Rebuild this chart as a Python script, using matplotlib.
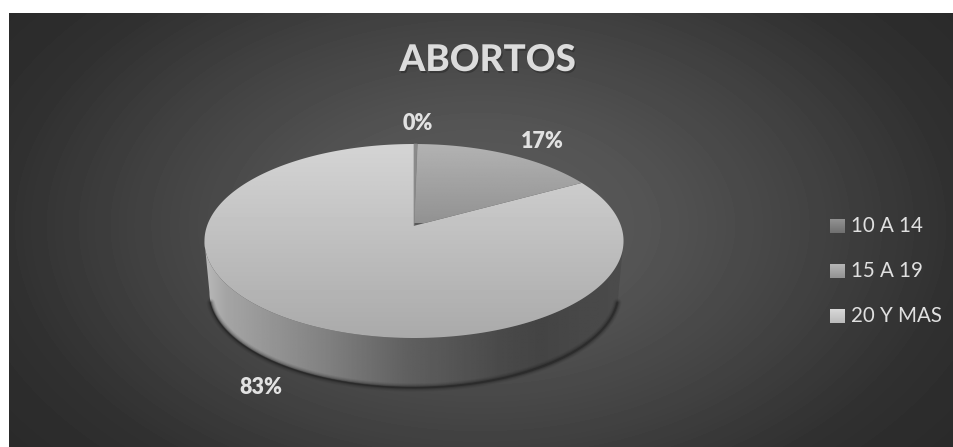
import numpy as np
import matplotlib
matplotlib.use('Agg')
import matplotlib.pyplot as plt
import matplotlib.patheffects as pe
from matplotlib.patches import Polygon

plt.rcParams['font.family'] = ['Lato', 'DejaVu Sans']

categories = ['10 A 14', '15 A 19', '20 Y MAS']
values = [0.3, 17.0, 82.7]
title = 'ABORTOS'

CX, CY = 414, 241
TILT = 0.1856
# widest point of the projected disc, in degrees clockwise from 12 o'clock
RIM_START = 100.7
RIM_END = 259.3


def disc_points(theta, rx=205.9, ry=97, shift=18, cy=CY):
  """Projects angles (clockwise from 12 o'clock) on the tilted disc to pixels."""
  u, v = np.sin(theta), np.cos(theta)
  d = 1 + TILT * v
  return CX + rx * u / d, cy - (ry * v + shift) / d


def fill_gradient(ax, points, extent, grey):
  """Fills a polygon with a grey ramp, clipped to the polygon."""
  patch = Polygon(points, closed=True, facecolor='none', edgecolor='none')
  ax.add_patch(patch)
  im = ax.imshow(grey, extent=extent, cmap='gray', vmin=0, vmax=255, aspect='auto', interpolation='bilinear')
  im.set_clip_path(patch)


def vertical_ramp(ax, points, top, bottom):
  xs, ys = zip(*points)
  extent = (min(xs), max(xs), max(ys), min(ys))
  fill_gradient(ax, points, extent, np.linspace(top, bottom, 64).reshape(-1, 1))


def draw_background(ax):
  """Dark panel with a soft radial glow behind the pie."""
  xx, yy = np.meshgrid(np.arange(9, 954), np.arange(13, 447))
  dist = np.sqrt(((xx - 480) / 480) ** 2 + ((yy - 225) / 300) ** 2)
  grey = np.interp(dist, [0, 0.35, 0.7, 1.0, 1.3], [92, 84, 66, 48, 40])
  ax.imshow(grey, extent=(9, 954, 447, 13), cmap='gray', vmin=0, vmax=255, aspect='auto')


def draw_side(ax):
  """Rim of the pie with its shadow along the lower edge."""
  rim = np.radians(np.linspace(RIM_START, RIM_END, 240))
  top_x, top_y = disc_points(rim[::-1])
  low_x, low_y = disc_points(rim, rx=201, ry=95, shift=17.6, cy=292)
  # shadow tapers off towards both ends of the rim
  shade = np.radians(np.linspace(RIM_START + 6, RIM_END - 6, 200))
  sx, sy = disc_points(shade, rx=201, ry=95, shift=17.6, cy=292)
  for width, alpha in [(6, 0.07), (4.5, 0.1), (3, 0.18), (1.5, 0.35)]:
    ax.plot(sx, sy + 0.5, color='#141414', lw=width, alpha=alpha, solid_capstyle='round')
  points = list(zip(top_x, top_y)) + list(zip(low_x, low_y))
  xs = np.linspace(204, 624, 256)
  grey = np.interp(xs, [204, 225, 323, 407, 500, 540, 624], [186, 165, 130, 96, 74, 68, 76]).reshape(1, -1)
  fill_gradient(ax, points, (204, 624, 400, 230), grey)


def draw_top(ax):
  """Top face: one wedge per category, the angles coming from the values."""
  fractions = np.array(values) / sum(values)
  edges = np.concatenate([[0], np.cumsum(fractions)]) * 2 * np.pi
  apex = disc_points(0.0, rx=0, ry=0)
  for i, ramp, extent in [(2, (212, 170), (200, 628, 338, 144)), (1, (178, 146), (400, 600, 223, 144))]:
    x, y = disc_points(np.linspace(edges[i], edges[i + 1], 240))
    points = [apex] + list(zip(x, y))
    fill_gradient(ax, points, extent, np.linspace(*ramp, 64).reshape(-1, 1))
  x, y = disc_points(np.linspace(edges[0], edges[1], 20))
  ax.add_patch(Polygon([apex] + list(zip(x, y)), closed=True, facecolor='#8a8a8a', edgecolor='#8a8a8a', lw=0.5))
  for frac, pos in zip(fractions, [(418, 124), (542, 141), (261, 388)]):
    ax.text(*pos, f'{round(frac * 100)}%', color='#e2e2e2', fontsize=15.5, fontweight='heavy', ha='center', va='center')


def draw_legend(ax):
  ramps = [(146, 112), (182, 146), (216, 186)]
  for name, ramp, y in zip(categories, ramps, [226, 271, 316]):
    corners = [(830, y - 7), (845, y - 7), (845, y + 7), (830, y + 7)]
    vertical_ramp(ax, corners, *ramp)
    ax.text(851, y, name, color='#e0e0e0', fontsize=14.8, ha='left', va='center')


def main():
  fig = plt.figure(figsize=(9.54, 4.47), dpi=100, facecolor='white')
  ax = fig.add_axes([0, 0, 1, 1])
  draw_background(ax)
  draw_side(ax)
  draw_top(ax)
  draw_legend(ax)
  head = ax.text(487.5, 60, title, color='#dcdcdc', fontsize=26.5, fontweight='black', ha='center', va='center')
  head.set_path_effects([pe.withSimplePatchShadow(offset=(1, -1.5), shadow_rgbFace='#222222', alpha=0.45)])
  ax.set_xlim(0, 954)
  ax.set_ylim(447, 0)
  ax.axis('off')
  fig.savefig('out.png', dpi=100, facecolor='white')


main()
